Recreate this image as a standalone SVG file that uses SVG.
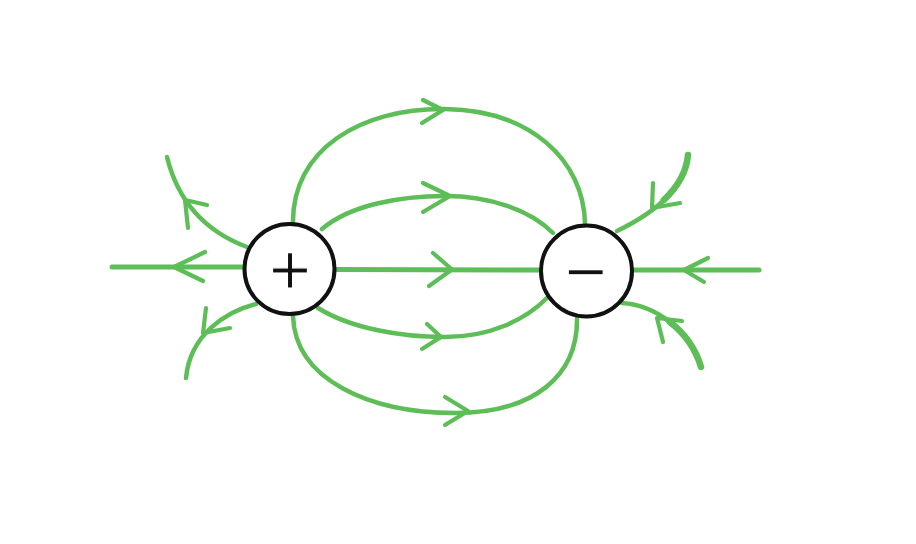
<svg xmlns="http://www.w3.org/2000/svg" width="916" height="544" viewBox="0 0 916 544">
  <style>
    .fl { fill: none; stroke: #5dbe57; stroke-width: 4.5; stroke-linecap: round; stroke-linejoin: round; }
    .thick { stroke-width: 6.5; }
    .ah { fill: none; stroke: #5dbe57; stroke-width: 4.2; stroke-linecap: round; stroke-linejoin: round; }
    .charge { fill: #ffffff; stroke: #111111; stroke-width: 4; }
    .sign { font-family: "Liberation Sans", Arial, sans-serif; font-size: 72px; fill: #111111; stroke: #ffffff; stroke-width: 1.2px; text-anchor: middle; }
  </style>
  <rect width="916" height="544" fill="#ffffff"/>

  <g id="field-lines">
    <!-- axis lines -->
    <path class="fl" d="M112,267 L245,267" style="stroke-width:5"/>
    <path class="ah" d="M205,252 L174,267 L203,281"/>
    <path class="fl" d="M335,269.5 L542,270" style="stroke-width:5"/>
    <path class="ah" d="M433,253 L452,269.5 L429,286"/>
    <path class="fl" d="M632,270 L759,270" style="stroke-width:5"/>
    <path class="ah" d="M708,258 L684,270 L704,282"/>

    <!-- outer top arc -->
    <path class="fl" d="M293,223 C292,150 360,108 445,109 C530,110 584,160 585,224"/>
    <path class="ah" d="M423,100 L443,110 L422,123"/>
    <!-- inner top arc -->
    <path class="fl" d="M322,229 C350,205 400,196 445,196 C490,196 530,210 553,233"/>
    <path class="ah" d="M423,183 L450,196 L423,212"/>
    <!-- inner bottom arc -->
    <path class="fl" d="M318,308 C350,328 400,337 445,337 C490,337 525,320 547,298"/>
    <path class="ah" d="M427,324 L441,337 L422,349"/>
    <!-- outer bottom arc -->
    <path class="fl" d="M293,316 C295,380 370,413 455,413 C535,413 578,375 577,318"/>
    <path class="ah" d="M445,397 L468,411 L445,425"/>

    <!-- left upper -->
    <path class="fl" d="M247,247 C215,235 180,210 167,157"/>
    <path class="ah" d="M207,205 L185,200 L188,228"/>
    <!-- left lower -->
    <path class="fl" d="M256,304 C225,312 190,335 186,378"/>
    <path class="ah" d="M206,308 L203,333 L230,328"/>
    <!-- right upper -->
    <path class="fl" d="M617,231 C650,215 685,190 688,155"/>
    <path class="fl thick" d="M663.75,200.1 C677,187.5 686.5,172.5 688,155"/>
    <path class="ah" d="M653,183 L652,208 L680,203"/>
    <!-- right lower -->
    <path class="fl" d="M622,303 C655,305 690,330 701,367"/>
    <path class="fl thick" d="M669.75,321.9 C684,333 695.5,348.5 701,367"/>
    <path class="ah" d="M682,321 L657,318 L663,342"/>
  </g>

  <g id="positive-charge">
    <circle class="charge" cx="289.5" cy="269" r="45"/>
    <text class="sign" x="290" y="293.5">+</text>
  </g>

  <g id="negative-charge">
    <circle class="charge" cx="586.5" cy="271" r="45.5"/>
    <text class="sign" x="585.5" y="295.5">−</text>
  </g>
</svg>
